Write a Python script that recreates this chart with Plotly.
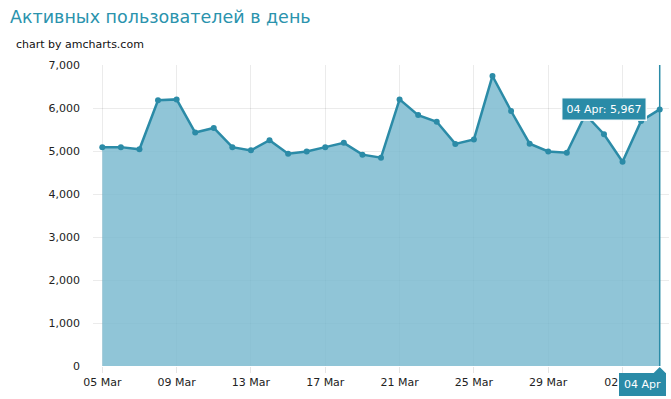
import plotly.graph_objects as go
import pandas as pd

dates = pd.date_range("2013-03-05", "2013-04-04", freq="D").strftime("%Y-%m-%d").tolist()
users = [5090, 5090, 5040, 6180, 6200, 5430, 5535, 5090, 5015, 5250,
         4935, 4990, 5090, 5190, 4915, 4845, 6200, 5835, 5680, 5165,
         5270, 6745, 5930, 5170, 4990, 4960, 5850, 5390, 4750, 5700,
         5967]
tick_dates = dates[::4]
tick_labels = [pd.Timestamp(d).strftime("%d %b") for d in tick_dates]
y_ticks = [0, 1000, 2000, 3000, 4000, 5000, 6000, 7000]

title = "Активных пользователей в день"
subtitle = "chart by amcharts.com"

LINE = "#2b8ba7"
FILL = "rgba(120,184,206,0.82)"
TEAL_BOX = "#2a8ba7"
FONT = "DejaVu Sans"

fig = go.Figure()
fig.add_trace(go.Scatter(
    x=dates, y=users, mode="lines+markers",
    line=dict(color=LINE, width=2.5),
    marker=dict(color=LINE, size=6),
    fill="tozeroy", fillcolor=FILL,
    hoverinfo="skip",
))

start = pd.Timestamp(dates[0]) - pd.Timedelta(hours=12)
end = pd.Timestamp(dates[-1]) + pd.Timedelta(hours=12)

last_x = dates[-1]
last_y = users[-1]

# cursor line
fig.add_shape(type="line", x0=last_x, x1=last_x, y0=0, y1=1, yref="paper",
              line=dict(color=LINE, width=1.5), layer="above")
# pointer triangle of bottom label
fig.add_shape(type="path", xref="x", yref="paper",
              xsizemode="pixel", ysizemode="pixel",
              xanchor=last_x, yanchor=0,
              path="M -6,-7 L 0,-1 L 6,-7 Z",
              fillcolor=TEAL_BOX, line=dict(width=0), layer="above")

fig.add_annotation(x=last_x, y=last_y, xref="x", yref="y",
                   text=f"{pd.Timestamp(last_x).strftime('%d %b')}: {last_y:,}",
                   showarrow=False, xanchor="right", yanchor="middle", xshift=-13,
                   bgcolor=TEAL_BOX, bordercolor="rgba(255,255,255,0.9)", borderwidth=1.5,
                   borderpad=4, font=dict(family=FONT, size=11, color="white"))
fig.add_annotation(x=last_x, y=0, xref="x", yref="paper",
                   text=pd.Timestamp(last_x).strftime("%d %b"),
                   showarrow=False, xanchor="center", yanchor="top", xshift=-17, yshift=-7,
                   bgcolor=TEAL_BOX, borderwidth=0, borderpad=5,
                   font=dict(family=FONT, size=11, color="white"))

fig.add_annotation(xref="paper", yref="paper", x=-85/576, y=1 + (65 - 17) / 301,
                   xanchor="left", yanchor="middle", text=title, showarrow=False,
                   font=dict(family=FONT, size=17.5, color="#2a93ad"))
fig.add_annotation(xref="paper", yref="paper", x=-79/576, y=1 + (65 - 44) / 301,
                   xanchor="left", yanchor="middle", text=subtitle, showarrow=False,
                   font=dict(family=FONT, size=11, color="#111111"))

fig.update_layout(
    width=671, height=399,
    margin=dict(l=93, r=2, t=65, b=33),
    paper_bgcolor="white", plot_bgcolor="white",
    showlegend=False,
    font=dict(family=FONT, size=11, color="#222222"),
    xaxis=dict(type="date", range=[start, end], tickvals=tick_dates, ticktext=tick_labels,
               showgrid=True, gridcolor="rgba(0,0,0,0.08)", gridwidth=1,
               ticks="outside", ticklen=6, tickcolor="rgba(0,0,0,0.1)",
               showline=False, zeroline=False, layer="above traces",
               tickfont=dict(family=FONT, size=11, color="#222222")),
    yaxis=dict(range=[0, 7000], tickvals=y_ticks, tickformat=",",
               showgrid=True, gridcolor="rgba(0,0,0,0.08)", gridwidth=1,
               ticks="", showline=False, zeroline=False, layer="above traces",
               ticklabelstandoff=12,
               tickfont=dict(family=FONT, size=11, color="#222222")),
)

fig.write_html("out.html")
